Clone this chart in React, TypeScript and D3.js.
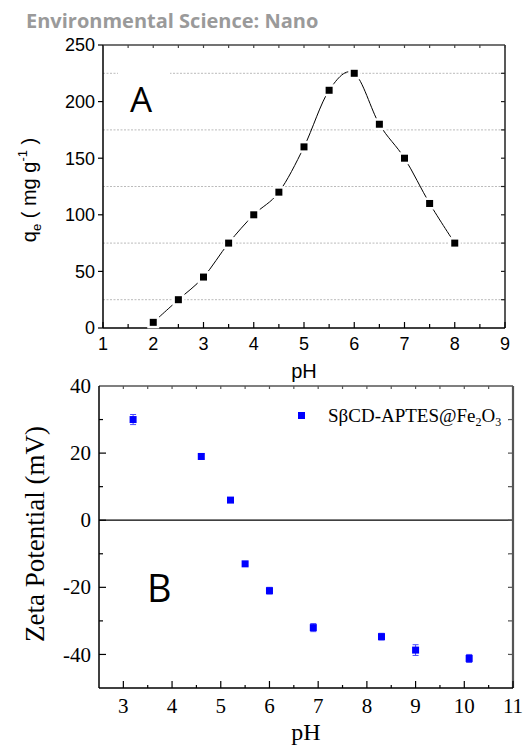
import React, { useEffect, useRef } from 'react';
import * as d3 from 'd3';

// panel A: adsorption capacity vs pH
const phA = [2, 2.5, 3, 3.5, 4, 4.5, 5, 5.5, 6, 6.5, 7, 7.5, 8];
const qe = [5, 25, 45, 75, 100, 120, 160, 210, 225, 180, 150, 110, 75];
const xTicksA = [1, 2, 3, 4, 5, 6, 7, 8, 9];
const yTicksA = [0, 50, 100, 150, 200, 250];
const gridA = [25, 75, 125, 175, 225];

// panel B: zeta potential vs pH
const phB = [3.2, 4.6, 5.2, 5.5, 6.0, 6.9, 8.3, 9.0, 10.1];
const zeta = [30, 19, 6, -13, -21, -32, -34.7, -38.7, -41.2];
const zetaErr = [1.5, 0.8, 0.6, 0.5, 1.0, 1.2, 1.0, 1.6, 1.2];
const xTicksB = [3, 4, 5, 6, 7, 8, 9, 10, 11];
const yTicksB = [-40, -20, 0, 20, 40];

const App = () => {
  const svgRef = useRef(null);

  useEffect(() => {
    const svg = d3.select(svgRef.current);
    svg.selectAll('*').remove();

    svg.append('text')
      .attr('x', 26).attr('y', 28)
      .style('font-family', 'Open Sans').style('font-weight', 700)
      .style('font-size', '20px').style('fill', '#9a9a9a')
      .text('Environmental Science: Nano');

    // ---------- panel A ----------
    const A = { left: 103, right: 505, top: 45, bottom: 328 };
    const xA = d3.scaleLinear().domain([1, 9]).range([A.left, A.right]);
    const yA = d3.scaleLinear().domain([0, 250]).range([A.bottom, A.top]);
    const gA = svg.append('g');
    const sans = '"Liberation Sans", sans-serif';

    gA.selectAll('.grid').data(gridA).enter().append('line')
      .attr('x1', A.left).attr('x2', A.right)
      .attr('y1', d => yA(d)).attr('y2', d => yA(d))
      .attr('stroke', '#bbb').attr('stroke-width', 1).attr('stroke-dasharray', '2,1.5');

    // white box behind label A
    gA.append('rect').attr('x', 118).attr('y', 68).attr('width', 52).attr('height', 48).attr('fill', '#fff');
    gA.append('text').attr('x', 130).attr('y', 112)
      .style('font-family', 'Open Sans').style('font-size', '35px').text('A');

    // frame
    gA.append('line').attr('x1', A.left).attr('x2', A.right).attr('y1', A.top).attr('y2', A.top).attr('stroke', '#444').attr('stroke-width', 1.3);
    gA.append('line').attr('x1', A.right).attr('x2', A.right).attr('y1', A.top).attr('y2', A.bottom).attr('stroke', '#222').attr('stroke-width', 1.5);
    gA.append('line').attr('x1', A.left).attr('x2', A.left).attr('y1', A.top).attr('y2', A.bottom).attr('stroke', '#000').attr('stroke-width', 1.5);
    gA.append('line').attr('x1', A.left).attr('x2', A.right).attr('y1', A.bottom).attr('y2', A.bottom).attr('stroke', '#000').attr('stroke-width', 1.5);

    const halfA = d3.range(1, 9.01, 0.5);
    gA.selectAll('.bt').data(halfA).enter().append('line')
      .attr('x1', d => xA(d)).attr('x2', d => xA(d))
      .attr('y1', A.bottom).attr('y2', d => A.bottom - (d % 1 === 0 ? 6 : 4))
      .attr('stroke', '#000').attr('stroke-width', 1.2);
    gA.selectAll('.tt').data(halfA).enter().append('line')
      .attr('x1', d => xA(d)).attr('x2', d => xA(d))
      .attr('y1', A.top).attr('y2', A.top + 3)
      .attr('stroke', '#444').attr('stroke-width', 1.2);
    gA.selectAll('.lt').data(yTicksA).enter().append('line')
      .attr('x1', A.left).attr('x2', A.left - 5)
      .attr('y1', d => yA(d)).attr('y2', d => yA(d))
      .attr('stroke', '#000').attr('stroke-width', 1.2);
    gA.selectAll('.rt').data(d3.range(25, 250, 25)).enter().append('line')
      .attr('x1', A.right).attr('x2', A.right - 4)
      .attr('y1', d => yA(d)).attr('y2', d => yA(d))
      .attr('stroke', '#222').attr('stroke-width', 1.2);

    gA.selectAll('.yl').data(yTicksA).enter().append('text')
      .attr('x', 95).attr('y', d => yA(d)).attr('dy', '0.36em')
      .style('text-anchor', 'end').style('font-family', sans).style('font-size', '18px')
      .text(d => d);
    gA.selectAll('.xl').data(xTicksA).enter().append('text')
      .attr('x', d => xA(d)).attr('y', 350)
      .style('text-anchor', 'middle').style('font-family', sans).style('font-size', '18px')
      .text(d => d);

    gA.append('text').attr('x', 304).attr('y', 378)
      .style('text-anchor', 'middle').style('font-family', sans).style('font-size', '20px')
      .text('pH');

    const yLabA = gA.append('text')
      .attr('transform', 'translate(36, 190) rotate(-90)')
      .style('text-anchor', 'middle').style('font-family', sans).style('font-size', '20px');
    yLabA.append('tspan').text('q');
    yLabA.append('tspan').attr('dy', 5).style('font-size', '13px').text('e');
    yLabA.append('tspan').attr('dy', -5).text(' ( mg g');
    yLabA.append('tspan').attr('dy', -9).style('font-size', '13px').text('-1');
    yLabA.append('tspan').attr('dy', 9).text(' )');

    const ptsA = phA.map((p, i) => [p, qe[i]]);
    const line = d3.line().x(d => xA(d[0])).y(d => yA(d[1])).curve(d3.curveCatmullRom.alpha(0));
    gA.append('path').attr('d', line(ptsA)).attr('fill', 'none').attr('stroke', '#000').attr('stroke-width', 1);
    gA.selectAll('.halo').data(ptsA).enter().append('rect')
      .attr('x', d => xA(d[0]) - 6).attr('y', d => yA(d[1]) - 6)
      .attr('width', 12).attr('height', 12).attr('fill', '#fff');
    gA.selectAll('.pt').data(ptsA).enter().append('rect')
      .attr('x', d => xA(d[0]) - 3.5).attr('y', d => yA(d[1]) - 3.5)
      .attr('width', 7).attr('height', 7).attr('fill', '#000');

    // ---------- panel B ----------
    const B = { left: 99, right: 513, top: 386, bottom: 688 };
    const xB = d3.scaleLinear().domain([2.5, 11]).range([B.left, B.right]);
    const yB = d3.scaleLinear().domain([-50, 40]).range([B.bottom, B.top]);
    const gB = svg.append('g');
    const serif = '"Liberation Serif", serif';

    gB.append('line').attr('x1', B.left).attr('x2', B.right).attr('y1', yB(0)).attr('y2', yB(0)).attr('stroke', '#000').attr('stroke-width', 1.3);
    gB.append('line').attr('x1', B.left).attr('x2', B.right).attr('y1', B.top).attr('y2', B.top).attr('stroke', '#555').attr('stroke-width', 1.5);
    gB.append('line').attr('x1', B.right).attr('x2', B.right).attr('y1', B.top).attr('y2', B.bottom).attr('stroke', '#555').attr('stroke-width', 2.2);
    gB.append('line').attr('x1', B.left).attr('x2', B.left).attr('y1', B.top).attr('y2', B.bottom).attr('stroke', '#000').attr('stroke-width', 1.5);
    gB.append('line').attr('x1', B.left).attr('x2', B.right).attr('y1', B.bottom).attr('y2', B.bottom).attr('stroke', '#000').attr('stroke-width', 1.5);

    const halfB = d3.range(3, 11.01, 0.5);
    gB.selectAll('.bt').data(halfB).enter().append('line')
      .attr('x1', d => xB(d)).attr('x2', d => xB(d))
      .attr('y1', B.bottom).attr('y2', d => B.bottom - (d % 1 === 0 ? 7 : 3))
      .attr('stroke', '#000').attr('stroke-width', 1.2);
    gB.selectAll('.tt').data(halfB).enter().append('line')
      .attr('x1', d => xB(d)).attr('x2', d => xB(d))
      .attr('y1', B.top).attr('y2', B.top + 3)
      .attr('stroke', '#555').attr('stroke-width', 1.2);
    const tensB = d3.range(-40, 40, 10);
    gB.selectAll('.lt').data(tensB).enter().append('line')
      .attr('x1', B.left).attr('x2', d => B.left + (d % 20 === 0 ? 7 : 4))
      .attr('y1', d => yB(d)).attr('y2', d => yB(d))
      .attr('stroke', '#000').attr('stroke-width', 1.2);
    gB.selectAll('.rt').data(tensB).enter().append('line')
      .attr('x1', B.right).attr('x2', B.right - 5)
      .attr('y1', d => yB(d)).attr('y2', d => yB(d))
      .attr('stroke', '#555').attr('stroke-width', 1.2);

    gB.selectAll('.yl').data(yTicksB).enter().append('text')
      .attr('x', 91).attr('y', d => yB(d)).attr('dy', '0.34em')
      .style('text-anchor', 'end').style('font-family', serif).style('font-size', '21px')
      .text(d => d);
    gB.selectAll('.xl').data(xTicksB).enter().append('text')
      .attr('x', d => xB(d)).attr('y', 713)
      .style('text-anchor', 'middle').style('font-family', serif).style('font-size', '21px')
      .text(d => d);

    gB.append('text').attr('x', 306).attr('y', 740)
      .style('text-anchor', 'middle').style('font-family', serif).style('font-size', '24px')
      .text('pH');
    gB.append('text')
      .attr('transform', 'translate(44, 534) rotate(-90)')
      .style('text-anchor', 'middle').style('font-family', serif).style('font-size', '27px')
      .text('Zeta Potential (mV)');
    gB.append('text').attr('x', 147).attr('y', 602)
      .style('font-family', 'Open Sans').style('font-size', '38px').text('B');

    // legend
    gB.append('rect').attr('x', 298).attr('y', 412).attr('width', 7).attr('height', 7).attr('fill', '#0000ff');
    const leg = gB.append('text').attr('x', 328).attr('y', 422)
      .style('font-family', serif).style('font-size', '19px');
    leg.append('tspan').text('SβCD-APTES@Fe');
    leg.append('tspan').attr('dy', 4).style('font-size', '12px').text('2');
    leg.append('tspan').attr('dy', -4).text('O');
    leg.append('tspan').attr('dy', 4).style('font-size', '12px').text('3');

    const ptsB = phB.map((p, i) => ({ x: p, y: zeta[i], e: zetaErr[i] }));
    gB.selectAll('.eb').data(ptsB).enter().append('path')
      .attr('d', d => {
        const cx = xB(d.x), y1 = yB(d.y + d.e), y2 = yB(d.y - d.e);
        return `M${cx - 3},${y1}H${cx + 3}M${cx},${y1}V${y2}M${cx - 3},${y2}H${cx + 3}`;
      })
      .attr('fill', 'none').attr('stroke', '#4a4aff').attr('stroke-width', 1);
    gB.selectAll('.pt').data(ptsB).enter().append('rect')
      .attr('x', d => xB(d.x) - 3.5).attr('y', d => yB(d.y) - 3.5)
      .attr('width', 7).attr('height', 7).attr('fill', '#0000ff');
  }, []);

  return (
    <svg ref={svgRef} width={523} height={745}
      style={{ position: 'absolute', left: 0, top: 0, background: '#fff' }} />
  );
};

export default App;
